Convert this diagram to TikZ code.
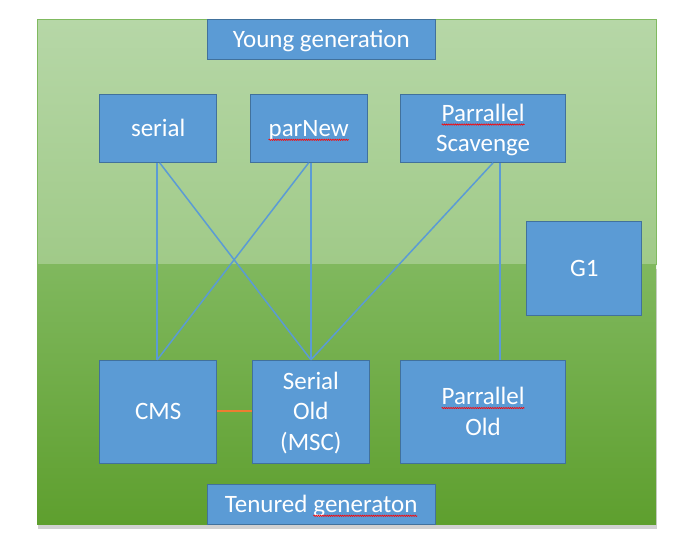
\documentclass[tikz,border=0pt]{standalone}
\usepackage{fontspec}
\setmainfont{Carlito}
\usetikzlibrary{shadows,decorations.pathmorphing}
\definecolor{boxfill}{HTML}{5B9BD5}
\definecolor{boxdraw}{HTML}{41719C}
\definecolor{linkblue}{HTML}{5B9BD5}
\definecolor{orangelink}{HTML}{ED7D31}
\definecolor{youngtop}{RGB}{182,215,167}
\definecolor{youngbot}{RGB}{160,202,136}
\definecolor{oldtop}{RGB}{128,184,94}
\definecolor{oldbot}{RGB}{94,159,46}
\definecolor{youngedge}{RGB}{128,186,96}
\newcommand{\ls}{\rule[-7.25pt]{0pt}{30.5pt}}
\newcommand{\squig}[1]{\tikz[baseline=(sq.base),x=1pt,y=1pt]{%
  \node[inner sep=0pt,outer sep=0pt,text=white,draw=none,fill=none,
    minimum width=0pt,minimum height=0pt,align=left] (sq) {#1};
  \draw[red,line width=0.6pt,decorate,
    decoration={zigzag,amplitude=0.7pt,segment length=2.2pt}]
    ([yshift=-3.5pt]sq.base west) -- ([yshift=-3.5pt]sq.base east);}}
\begin{document}
\begin{tikzpicture}[x=1pt,y=-1pt,
  gcbox/.style={draw=boxdraw,fill=boxfill,line width=1pt,text=white,
    font=\fontsize{25}{30.5}\selectfont,align=center,inner sep=0pt},
  link/.style={draw=linkblue,line width=1.5pt},
  olink/.style={draw=orangelink,line width=1.8pt}]
\useasboundingbox (0,0) rectangle (695,553);
% backgrounds
\fill[top color=youngtop,bottom color=youngbot] (37,19.5) rectangle (656,265);
\draw[youngedge,line width=0.8pt] (37,265) -- (37,19.5) -- (656,19.5) -- (656,265);
\fill[top color=oldtop,bottom color=oldbot,
  drop shadow={shadow xshift=1pt,shadow yshift=-4pt,opacity=0.3,fill=black!60}]
  (37,264.5) rectangle (656,524.5);
% nodes
\node[gcbox,minimum width=228pt,minimum height=40pt] (young) at (321.3,39.3) {\ls Young generation};
\node[gcbox,minimum width=117pt,minimum height=68pt] (serial) at (158.2,128.3) {\ls serial};
\node[gcbox,minimum width=117pt,minimum height=68pt] (parnew) at (308.7,128.3) {\ls\squig{parNew}};
\node[gcbox,minimum width=165pt,minimum height=68pt] (ps) at (483.1,128.3) {\ls\squig{Parrallel}\\\ls Scavenge};
\node[gcbox,minimum width=115pt,minimum height=94pt] (g1) at (584.4,268.3) {\ls G1};
\node[gcbox,minimum width=117pt,minimum height=103pt] (cms) at (158.2,411.8) {\ls CMS};
\node[gcbox,minimum width=117pt,minimum height=103pt] (so) at (310.9,411.8) {\ls Serial\\\ls Old\\\ls (MSC)};
\node[gcbox,minimum width=165pt,minimum height=103pt] (po) at (483.1,411.8) {\ls\squig{Parrallel}\\\ls Old};
\node[gcbox,minimum width=228pt,minimum height=40pt] (ten) at (321.3,504.3) {\ls Tenured \squig{generaton}};
% connectors
\coordinate (serialA) at ([xshift=-1pt]serial.south);
\coordinate (serialB) at ([xshift=1.5pt]serial.south);
\coordinate (psA) at ([xshift=10pt]ps.south);
\coordinate (psB) at ([xshift=17pt]ps.south);
\draw[link] (serialA) -- (serialA |- cms.north);
\draw[link] (serialB) -- (so.north);
\draw[link] (parnew.south) -- ([xshift=-1pt]cms.north);
\draw[link] (so.north |- parnew.south) -- (so.north);
\draw[link] (psA) -- (so.north);
\draw[link] (psB) -- (psB |- po.north);
\draw[olink] ([yshift=1pt]cms.east) -- ([yshift=1pt]so.west);
\end{tikzpicture}
\end{document}
